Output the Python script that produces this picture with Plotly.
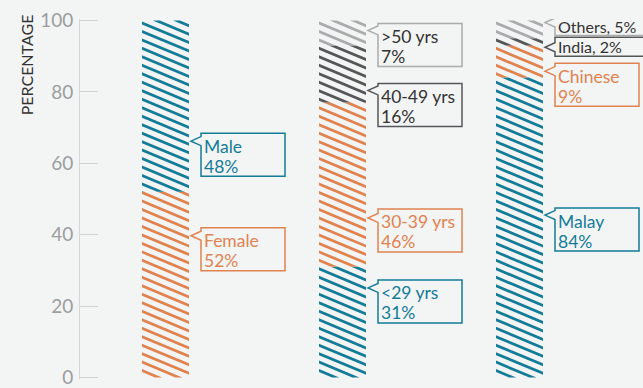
import plotly.graph_objects as go

# ---- data -------------------------------------------------------------
groups = ["Gender", "Age", "Ethnicity"]

gender_labels = ["Female", "Male"]
gender_values = [52, 48]

age_labels = ["<29 yrs", "30-39 yrs", "40-49 yrs", ">50 yrs"]
age_values = [31, 46, 16, 7]

ethnicity_labels = ["Malay", "Chinese", "India", "Others"]
ethnicity_values = [84, 9, 2, 5]

y_ticks = [0, 20, 40, 60, 80, 100]

# ---- styling / layout ------------------------------------------------------
TEAL = "#137c98"
ORANGE = "#e0834f"
DARK = "#545658"
LIGHT = "#a9abad"
BG = "#f3f4f4"
TEXT_DARK = "#333333"

gender_colors = [ORANGE, TEAL]
age_colors = [TEAL, ORANGE, DARK, LIGHT]
ethnicity_colors = [TEAL, ORANGE, DARK, LIGHT]

# callout tip height (axis units), box top offset above tip (px), one-line flag
gender_tips = [39.7, 66.2]
gender_offsets = [8, 8]
age_tips = [25.1, 44.7, 80.4, 97.2]
age_offsets = [8, 9, 7, 7]
ethnicity_tips = [45.5, 85.8, 92.5, 99.4]
ethnicity_offsets = [7, 8, 10, 6]
ethnicity_inline = [False, False, True, True]

W, H = 643, 388
PAD = 0.4                       # axis padding so end ticks are kept
UY = 358 / 100                  # px per y unit
M = dict(l=80, r=0, t=round(20 - PAD * UY, 2), b=round(10 - PAD * UY, 2))
PW = W - M["l"] - M["r"]
PH = H - M["t"] - M["b"]
X_RANGE = [-0.4831, 2.6977]
Y_RANGE = [-PAD, 100 + PAD]
UX = PW / (X_RANGE[1] - X_RANGE[0])   # px per x unit
BAR_W = 0.2655

SLOPE = 0.42      # hatch drop per px across
PERIOD = 8.5      # vertical hatch period, px
THICK = 3.0       # vertical stripe thickness, px
FONT = "Lato"
LABEL_SIZE = 17.5
INLINE_SIZE = 16
LINE_GAP = 20     # px between the two callout text lines


def clip_y(poly, ymin, ymax):
    """Clip a polygon (list of (x, y)) to ymin <= y <= ymax."""
    def edge(pts, inside, inter):
        out = []
        for i in range(len(pts)):
            cur, prev = pts[i], pts[i - 1]
            if inside(cur):
                if not inside(prev):
                    out.append(inter(prev, cur))
                out.append(cur)
            elif inside(prev):
                out.append(inter(prev, cur))
        return out

    def at(y0):
        return lambda p, q: (p[0] + (q[0] - p[0]) * (y0 - p[1]) / (q[1] - p[1]), y0)

    pts = edge(poly, lambda p: p[1] >= ymin, at(ymin))
    if pts:
        pts = edge(pts, lambda p: p[1] <= ymax, at(ymax))
    return pts


def hatch(xc, base, top):
    """Diagonal stripes filling the bar segment [base, top] centred at xc."""
    wpx = BAR_W * UX
    y0p, y1p = base * UY, top * UY
    xl = xc - BAR_W / 2
    xs, ys = [], []
    k0 = int(y0p // PERIOD) - 1
    k1 = int((y1p + SLOPE * wpx + THICK) // PERIOD) + 2
    for k in range(k0, k1):
        c = k * PERIOD
        band = [(0, c), (wpx, c - SLOPE * wpx),
                (wpx, c - SLOPE * wpx - THICK), (0, c - THICK)]
        pts = clip_y(band, y0p, y1p)
        if len(pts) < 3:
            continue
        for px, py in pts + [pts[0]]:
            xs.append(xl + px / UX)
            ys.append(py / UY)
        xs.append(None)
        ys.append(None)
    return xs, ys


fig = go.Figure()
shapes, annotations = [], []

series = [
    (gender_labels, gender_values, gender_colors, gender_tips, gender_offsets, [False, False]),
    (age_labels, age_values, age_colors, age_tips, age_offsets, [False] * 4),
    (ethnicity_labels, ethnicity_values, ethnicity_colors, ethnicity_tips,
     ethnicity_offsets, ethnicity_inline),
]

for gi, (labels, values, colors, tips, offsets, inline) in enumerate(series):
    base = 0
    for lab, val, col, tip, off, one in zip(labels, values, colors, tips, offsets, inline):
        fig.add_trace(go.Bar(
            x=[gi], y=[val], base=[base], width=BAR_W,
            marker=dict(color="rgba(0,0,0,0)", line=dict(width=0)),
            name=lab, hoverinfo="skip", showlegend=False))
        hx, hy = hatch(gi, base, base + val)
        fig.add_trace(go.Scatter(
            x=hx, y=hy, mode="lines", fill="toself", fillcolor=col,
            line=dict(width=0, color=col), hoverinfo="skip", showlegend=False))

        # callout bubble
        grey = col in (DARK, LIGHT)
        txt_col = TEXT_DARK if grey else col
        h = 19 if one else 43
        bw = 100 if one else 84
        left, right = 12, 12 + bw
        topp, bot = off, off - h
        path = (f"M{left},{topp} L{right},{topp} L{right},{bot} L{left},{bot} "
                f"L{left},-4.5 L2,0 L{left},4.5 Z")
        shapes.append(dict(
            type="path", path=path, xref="x", yref="y",
            xsizemode="pixel", ysizemode="pixel",
            xanchor=gi + BAR_W / 2, yanchor=tip,
            line=dict(color=col, width=1.5), fillcolor=BG, layer="above"))
        if one:
            lines = [(f"{lab}, {val}%", off - h / 2)]
            size = INLINE_SIZE
        else:
            lines = [(lab, off - 13), (f"{val}%", off - 13 - LINE_GAP)]
            size = LABEL_SIZE
        for text, dy in lines:
            annotations.append(dict(
                x=gi + BAR_W / 2, y=tip, xref="x", yref="y",
                xanchor="left", yanchor="middle", xshift=left + 2, yshift=dy,
                text=text, showarrow=False, align="left", borderpad=0,
                font=dict(family=FONT, size=size, color=txt_col)))
        base += val

annotations.append(dict(
    x=-54 / PW, y=(100 - 45 / UY + PAD) / (100 + 2 * PAD), xref="paper", yref="paper",
    xanchor="center", yanchor="middle", textangle=-90,
    text="PERCENTAGE", showarrow=False,
    font=dict(family=FONT, size=16, color=TEXT_DARK)))

fig.update_layout(
    width=W, height=H, margin=M,
    paper_bgcolor=BG, plot_bgcolor=BG,
    barmode="overlay", showlegend=False,
    shapes=shapes, annotations=annotations,
    xaxis=dict(range=X_RANGE, visible=False, fixedrange=True),
    yaxis=dict(
        range=Y_RANGE, tickvals=y_ticks, ticks="inside", ticklen=18,
        tickcolor="#cfd1d2", tickwidth=1, showline=True, linecolor="#d4d6d7",
        linewidth=1, showgrid=False, zeroline=False, ticklabelstandoff=2,
        ticklabeloverflow="allow",
        tickfont=dict(family=FONT, size=19, color="#9c9ea0")),
)

fig.write_html("out.html")
